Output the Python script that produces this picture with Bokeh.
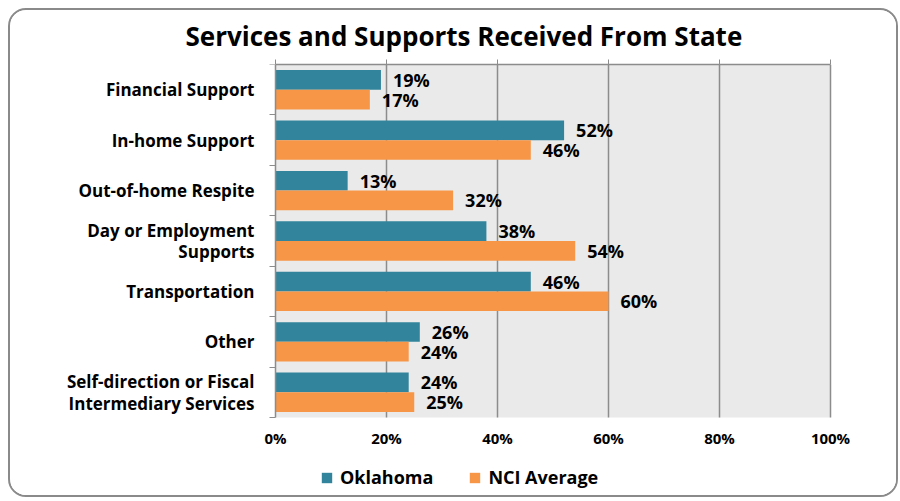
from bokeh.plotting import figure
from bokeh.models import (Range1d, FixedTicker, LinearAxis, Label, Legend, LegendItem,
                          BoxAnnotation)
from bokeh.embed import file_html
from bokeh.resources import INLINE

categories = ["Financial Support", "In-home Support", "Out-of-home Respite",
              "Day or Employment\nSupports", "Transportation", "Other",
              "Self-direction or Fiscal\nIntermediary Services"]
oklahoma = [19, 52, 13, 38, 46, 26, 24]
nci_average = [17, 46, 32, 54, 60, 24, 25]
series_names = ["Oklahoma", "NCI Average"]
x_ticks = [0, 20, 40, 60, 80, 100]
x_tick_labels = ["0%", "20%", "40%", "60%", "80%", "100%"]
title_text = "Services and Supports Received From State"

TEAL = "#31849B"
ORANGE = "#F79646"
GRID = "#8C8C8C"
PLOT_BG = "#EAEAEA"
FONT = "Open Sans"

n = len(categories)
centers = [n - i - 0.5 for i in range(n)]
bar_h = 0.39
y_ok = [c + bar_h / 2 for c in centers]
y_nci = [c - bar_h / 2 for c in centers]

# layout sizes (pixels)
PLOT_W = 555           # width of the 0-100% area
PAD_L, PAD_R = 12, 22  # room for the first/last tick labels
PLOT_PX = 353          # height of the category area
FRAME_H = 428          # frame also holds tick labels and legend below
x_lo = x_ticks[0] - (x_ticks[-1] - x_ticks[0]) * PAD_L / PLOT_W
x_hi = x_ticks[-1] + (x_ticks[-1] - x_ticks[0]) * PAD_R / PLOT_W
y_start = n - n * FRAME_H / PLOT_PX

p = figure(frame_width=PLOT_W + PAD_L + PAD_R, frame_height=FRAME_H,
           x_range=Range1d(x_lo, x_hi), y_range=Range1d(y_start, n),
           output_backend="svg", toolbar_location=None,
           min_border_left=253, min_border_right=44,
           min_border_top=40, min_border_bottom=3,
           background_fill_color="white", border_fill_color="white",
           outline_line_color=None, x_axis_location=None, y_axis_location=None)

p.styles = {"margin-left": "8px", "margin-top": "8px",
            "border": "2px solid #8a8a8a", "border-radius": "18px",
            "overflow": "hidden"}

p.title.text = title_text
p.title.align = "left"
p.title.offset = -78
p.title.text_font = FONT
p.title.text_font_size = "26px"
p.title.text_font_style = "bold"
p.title.text_color = "black"
p.title.standoff = 11

# gray plotting area
p.add_layout(BoxAnnotation(left=x_ticks[0], right=x_ticks[-1], bottom=0, top=n,
                           fill_color=PLOT_BG, fill_alpha=1,
                           line_color=None, level="underlay"))

p.xgrid.grid_line_color = None
p.ygrid.grid_line_color = None
# vertical gridlines only across the category area
p.segment(x0=x_ticks[1:], x1=x_ticks[1:], y0=[0] * (len(x_ticks) - 1),
          y1=[n] * (len(x_ticks) - 1), line_color=GRID, line_width=1.5)

r_ok = p.hbar(y=y_ok, right=oklahoma, left=0, height=bar_h, fill_color=TEAL, line_color=None)
r_nci = p.hbar(y=y_nci, right=nci_average, left=0, height=bar_h, fill_color=ORANGE, line_color=None)

# category labels (left panel, no line/ticks)
yax = LinearAxis(ticker=FixedTicker(ticks=centers, minor_ticks=[]))
yax.major_label_overrides = {c: cat for c, cat in zip(centers, categories)}
yax.axis_line_color = None
yax.major_tick_line_color = None
yax.major_tick_out = 0
yax.major_tick_in = 0
yax.major_label_standoff = 9
yax.major_label_text_font = FONT
yax.major_label_text_font_style = "bold"
yax.major_label_text_font_size = "17px"
yax.major_label_text_line_height = 0.95
yax.major_label_text_color = "black"
yax.major_label_text_align = "right"
p.add_layout(yax, "left")

# vertical axis line at 0% with ticks between categories
vax = LinearAxis(ticker=FixedTicker(ticks=[], minor_ticks=list(range(n + 1))),
                 fixed_location=0, bounds=(0, n))
vax.major_label_text_font_size = "0px"
vax.major_tick_line_color = None
vax.minor_tick_line_color = GRID
vax.minor_tick_out = 6
vax.minor_tick_in = 0
vax.axis_line_color = GRID
vax.axis_line_width = 1.5
p.add_layout(vax, "left")

# top axis line with ticks (drawn as minor ticks, so no labels)
tax = LinearAxis(ticker=FixedTicker(ticks=[], minor_ticks=x_ticks),
                 bounds=(x_ticks[0], x_ticks[-1]))
tax.major_label_text_font_size = "0px"
tax.major_label_standoff = 0
tax.axis_line_color = GRID
tax.axis_line_width = 1.5
tax.major_tick_line_color = None
tax.major_tick_out = 5
tax.major_tick_in = 0
tax.minor_tick_line_color = GRID
tax.minor_tick_out = 5
tax.minor_tick_in = 0
p.add_layout(tax, "above")

# bottom tick labels, placed at the foot of the category area
bax = LinearAxis(ticker=FixedTicker(ticks=x_ticks, minor_ticks=[]), fixed_location=0)
bax.major_label_overrides = {t: l for t, l in zip(x_ticks, x_tick_labels)}
bax.axis_line_color = None
bax.major_tick_line_color = None
bax.major_tick_out = 0
bax.major_tick_in = 0
bax.major_label_standoff = 10
bax.major_label_text_font = FONT
bax.major_label_text_font_style = "bold"
bax.major_label_text_font_size = "15px"
bax.major_label_text_color = "black"
p.add_layout(bax, "below")

# value labels: first the background boxes, then the texts
for draw_box in (True, False):
    for vals, ys in ((oklahoma, y_ok), (nci_average, y_nci)):
        for v, y in zip(vals, ys):
            kw = dict(x=v, y=y, x_offset=12, text=f"{v}%",
                      text_baseline="middle", text_align="left",
                      text_font=FONT, text_font_style="bold",
                      text_font_size="18px", text_color="black")
            if draw_box:
                kw.update(background_fill_color=PLOT_BG, padding=4, text_alpha=0)
            p.add_layout(Label(**kw))

legend = Legend(items=[LegendItem(label=series_names[0], renderers=[r_ok]),
                       LegendItem(label=series_names[1], renderers=[r_nci])],
                orientation="horizontal", location=(45 + PAD_L, 3),
                margin=0, padding=0,
                glyph_width=13, glyph_height=13, spacing=35, label_standoff=7,
                label_text_font=FONT, label_text_font_style="bold",
                label_text_font_size="18px", label_text_color="black",
                border_line_color=None, background_fill_alpha=0)
p.add_layout(legend, "center")

open("out.html", "w").write(file_html(p, INLINE))
